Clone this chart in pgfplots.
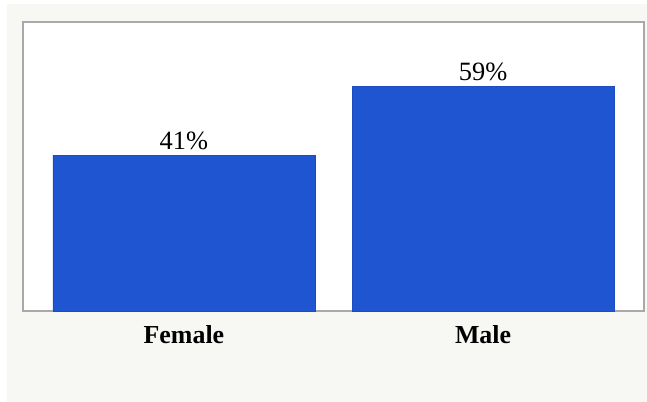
\documentclass[border=0pt]{standalone}
\usepackage{pgfplots}
\pgfplotsset{compat=1.18}
\usepackage{fontspec}
\setmainfont{Liberation Serif}
\definecolor{bgc}{HTML}{F7F7F4}
\definecolor{barc}{HTML}{1F55D0}
\definecolor{bard}{HTML}{1C4CBE}
\definecolor{framec}{HTML}{A9A9A9}
\begin{document}
\begin{tikzpicture}
\fill[white] (-23bp,-91bp) rectangle (624bp,311bp);
\fill[bgc] (-16bp,-91bp) rectangle (624bp,307bp);
\begin{axis}[
  scale only axis,
  width=621bp, height=289bp,
  xmin=-0.538, xmax=1.538,
  ymin=0, ymax=76,
  ybar, bar width=262bp,
  /pgf/number format/assume math mode=true,
  axis background/.style={fill=white},
  axis line style={framec, line width=1.2bp},
  xtick=data, xticklabels={Female,Male},
  xtick style={draw=none}, ytick=\empty,
  xticklabel style={font=\fontsize{26}{28}\selectfont\bfseries, anchor=base, inner sep=0pt, yshift=-28bp},
  nodes near coords={\pgfmathprintnumber{\pgfplotspointmeta}\%},
  every node near coord/.append style={font=\fontsize{26.5}{28}\selectfont, anchor=base, inner sep=0pt, yshift=6bp, text=black},
  clip=false,
]
\addplot[fill=barc, draw=bard, line width=0.6bp] coordinates {(0,41) (1,59)};
\end{axis}
\end{tikzpicture}
\end{document}
